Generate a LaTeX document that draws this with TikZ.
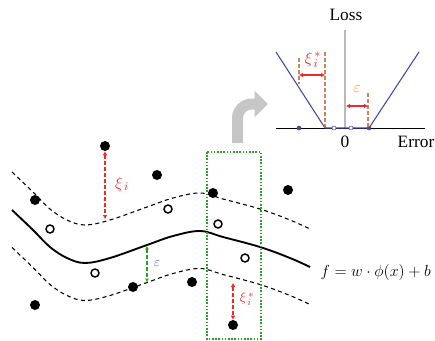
\documentclass[tikz,border=0pt]{standalone}
\usepackage{fontspec}
\setmainfont{Liberation Serif}
\usepackage{xcolor}
\usepackage{tikz}
\usetikzlibrary{arrows.meta,positioning}

\definecolor{lossblue}{RGB}{70,70,170}
\definecolor{slackred}{RGB}{240,40,40}
\definecolor{guideorange}{RGB}{205,130,90}
\definecolor{epsorange}{RGB}{250,140,30}
\definecolor{boxgreen}{RGB}{40,160,40}
\definecolor{epsblue}{RGB}{90,90,200}

% regression function, reused for the tube edges
\newcommand{\svrcurve}{plot[smooth, tension=0.6] coordinates {(12,210) (33,230) (50,247) (67,258) (85,263) (110,258) (147,245) (173,236) (200,231) (223,237) (260,247) (290,258) (310,267)}}

\begin{document}
\begin{tikzpicture}[
  x=0.75pt, y=-0.75pt,
  dot/.style={circle, fill=black, inner sep=0pt, minimum size=7.5pt},
  hole/.style={circle, draw=black, fill=white, line width=1.1pt,
               inner sep=0pt, minimum size=6pt},
  tube/.style={line width=0.8pt, dash pattern=on 3pt off 2.5pt},
  slack/.style={slackred, line width=1pt, dash pattern=on 3pt off 1.5pt,
                {Latex[length=3pt,width=3.5pt]}-{Latex[length=3pt,width=3.5pt]}},
  guide/.style={guideorange, line width=0.9pt, dash pattern=on 3pt off 1.5pt},
  axdot/.style={circle, inner sep=0pt, minimum size=3pt, draw=lossblue},
  lbl/.style={font=\fontsize{13}{15}\selectfont}
]
\useasboundingbox (0,0) rectangle (435,340);

% ---- Loss function (top right) ----
\coordinate (ytop) at (345,30);
\coordinate (orig) at (345,128);
\coordinate (xl)   at (276,128);
\coordinate (xr)   at (425,128);
\draw[gray!55, line width=2.2pt] (ytop) -- (orig);
\draw[line width=0.7pt] (xl) -- (xr);
\node[lbl] (loss) at (346,15) {Loss};
\node[lbl] (zero) at (345,142) {0};
\node[lbl] (err)  at (416,142) {Error};

\coordinate (vl) at (276,52);
\coordinate (kl) at (325,128);
\coordinate (kr) at (369,128);
\coordinate (vr) at (419,52);
\draw[lossblue, line width=0.8pt] (vl) -- (kl) -- (kr) -- (vr);

\node[axdot, fill=lossblue] (a1) at (299,128) {};
\node[axdot, fill=white]    (a2) at (334,128) {};
\node[axdot, fill=white]    (a3) at (351,128) {};
\node[axdot, fill=lossblue] (a4) at (369,128) {};

\coordinate (g1t) at (299,58);  \coordinate (g1b) at (299,84);
\coordinate (g2t) at (325,52);  \coordinate (g2b) at (325,127);
\coordinate (g3t) at (368,93);  \coordinate (g3b) at (368,127);
\draw[guide] (g1t) -- (g1b);
\draw[guide] (g2t) -- (g2b);
\draw[guide] (g3t) -- (g3b);

\coordinate (s1a) at (299,75);  \coordinate (s1b) at (325,75);
\coordinate (s2a) at (346,106); \coordinate (s2b) at (368,106);
\draw[slack, solid] (s1a) -- (s1b);
\draw[slack, solid] (s2a) -- (s2b);
\node[lbl, text=slackred] (xistarl) at (313,60) {$\xi_{\,i}^{\,*}$};
\node[lbl, text=epsorange] (epsl) at (357,89) {$\varepsilon$};

% ---- Gray hint arrow ----
\coordinate (hb) at (237.5,143);
\coordinate (ht) at (268,104);
\draw[gray!45, line width=8.25pt, -{Triangle[width=19pt,length=10pt]}]
  (hb) -- (237.5,118) to[out=90,in=180] (252,104) -- (ht);

% ---- Epsilon tube (bottom left) ----
\draw[line width=1.4pt] \svrcurve;
\begin{scope}[shift={(0,-38)}]
  \draw[tube] \svrcurve;
\end{scope}
\begin{scope}[shift={(0,37.5)}]
  \draw[tube] \svrcurve;
\end{scope}

\draw[boxgreen, line width=0.9pt, dash pattern=on 1.2pt off 1.2pt]
  (207,152) rectangle (261,339);

% data points
\node[dot] (p1) at (105,146) {};
\node[dot] (p2) at (157,175) {};
\node[dot] (p3) at (35,200) {};
\node[dot] (p4) at (213,193) {};
\node[dot] (p5) at (288,190) {};
\node[dot] (p6) at (133,287) {};
\node[dot] (p7) at (192,282) {};
\node[dot] (p8) at (35,305) {};
\node[dot] (p9) at (233,325) {};
\node[hole] (q1) at (50,229) {};
\node[hole] (q2) at (168,209) {};
\node[hole] (q3) at (95,273) {};
\node[hole] (q4) at (218,224) {};
\node[hole] (q5) at (245,258) {};

% slacks and margin
\coordinate (xiu) at (105,219);
\coordinate (xid) at (233,283);
\draw[slack] (p1.south) -- (xiu);
\draw[slack] (xid) -- (p9.north);
\node[lbl, text=slackred] (xi)  at (122,184) {$\xi_{\,i}$};
\node[text=slackred] (xistar) at (247,299) {$\xi_{\,i}^{\,*}$};

\coordinate (epsa) at (147,246);
\coordinate (epsb) at (147,282);
\draw[boxgreen, line width=0.8pt, dash pattern=on 3pt off 1.5pt,
      {Latex[length=2.5pt,width=3pt]}-{Latex[length=2.5pt,width=3pt]}] (epsa) -- (epsb);
\node[text=epsblue] (epsm) at (157,264) {$\varepsilon$};

\node[lbl, anchor=west] (fx) at (316,272) {$f = w\cdot\phi\mathbf{(}x\mathbf{)}+b$};

\end{tikzpicture}
\end{document}
